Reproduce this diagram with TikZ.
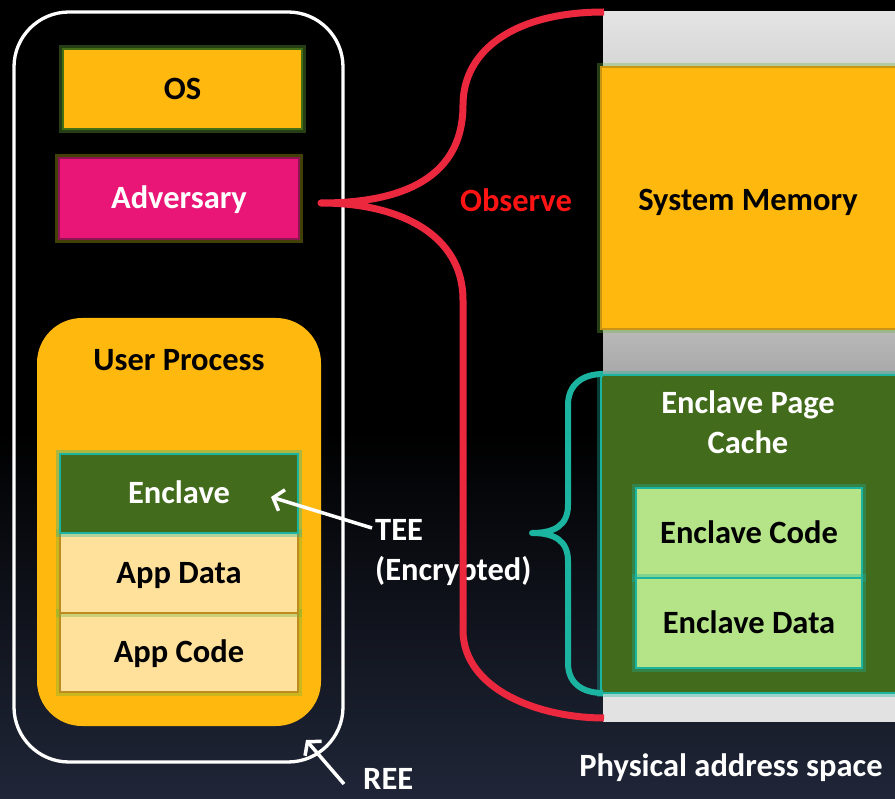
\documentclass[tikz,border=0pt]{standalone}
\usepackage{fontspec}
\setmainfont{Carlito}
\usetikzlibrary{arrows.meta}
\definecolor{orng}{RGB}{255,184,14}
\definecolor{mgnt}{RGB}{233,22,120}
\definecolor{dgreen}{RGB}{66,107,28}
\definecolor{lyell}{RGB}{255,225,155}
\definecolor{lgreen}{RGB}{180,228,135}
\definecolor{teal2}{RGB}{26,180,160}
\definecolor{redc}{RGB}{236,40,62}
\definecolor{obsred}{RGB}{255,20,20}
\definecolor{navy}{RGB}{32,38,56}
\definecolor{glowg}{RGB}{110,180,60}
\definecolor{glowy}{RGB}{150,140,20}
\definecolor{osedge}{RGB}{70,110,20}
\definecolor{advedge}{RGB}{140,20,80}
\definecolor{appedge}{RGB}{190,140,30}
\definecolor{smedge}{RGB}{200,150,20}
\definecolor{greyA}{RGB}{228,228,228}
\definecolor{greyB}{RGB}{214,214,214}
\definecolor{greyC}{RGB}{185,185,185}
\definecolor{greyD}{RGB}{168,168,168}
\definecolor{greyE}{RGB}{226,226,226}
\tikzset{
  txt/.style={font=\fontsize{32.5}{40}\selectfont\bfseries, inner sep=0pt},
  one/.style={text height=23pt, text depth=2.5pt},
  gglow/.style={preaction={draw=glowg, line width=8pt, opacity=0.35}},
  tglow/.style={preaction={draw=teal2, line width=8pt, opacity=0.35}},
  yglow/.style={preaction={draw=glowy, line width=8pt, opacity=0.45}},
  arr/.style={draw=white, line width=3.5pt, -{Straight Barb[length=9pt,width=22pt,line width=3.5pt]}},
  brace/.style={line width=7pt},
}
\begin{document}
\begin{tikzpicture}[x=1pt,y=-1pt]
\useasboundingbox (0,0) rectangle (895,799);
% background
\fill[black] (0,0) rectangle (895,799);
\shade[top color=black, bottom color=navy] (0,430) rectangle (895,799);

% REE box
\draw[white, line width=3.3pt, rounded corners=55pt] (14,12) rectangle (343,762);
\node[txt, one, text=white, anchor=west] (ree) at (363,779) {REE};
\coordinate (reefrom) at (344,784);
\coordinate (reetip) at (306,740);
\draw[arr] (reefrom) -- (reetip);

% OS and Adversary
\node[txt, one, fill=orng, draw=osedge, line width=1.5pt, gglow,
      minimum width=239pt, minimum height=80pt] (os) at (182.5,89) {OS};
\node[txt, one, fill=mgnt, draw=advedge, line width=1.5pt, yglow,
      text=white, minimum width=240pt, minimum height=81pt] (adv) at (179,198.5) {Adversary};

% User process
\node[fill=orng, rounded corners=45pt, minimum width=284pt, minimum height=408pt, inner sep=0pt]
      (up) at (179,522) {};
\node[txt, one] (uplabel) at (179,360) {User Process};
\node[txt, one, fill=lyell, draw=appedge, line width=1.5pt, gglow,
      minimum width=238pt, minimum height=79pt] (appcode) at (179,652.5) {App Code};
\node[txt, one, fill=lyell, draw=appedge, line width=1.5pt, gglow,
      minimum width=238pt, minimum height=80pt] (appdata) at (179,573) {App Data};
\node[txt, one, fill=dgreen, draw=teal2, line width=1.5pt, tglow, text=white,
      minimum width=238pt, minimum height=79pt] (encl) at (179,493.5) {Enclave};

% TEE label and arrow
\node[txt, text=white, anchor=west, align=left] (tee) at (375,553) {TEE\\(Encrypted)};
\coordinate (teefrom) at (372,528);
\coordinate (teetip) at (271,497);
\draw[arr] (teefrom) -- (teetip);

% right memory column
\shade[top color=greyA, bottom color=greyB] (603,12) rectangle (895,68);
\shade[top color=greyC, bottom color=greyD] (603,329) rectangle (895,375);
\fill[greyE] (603,693) rectangle (895,722);
\node[fill=orng, draw=smedge, line width=1.5pt, gglow,
      minimum width=300pt, minimum height=262pt, inner sep=0pt] (sysmem) at (751,198) {};
\node[txt, one] (sysmemlabel) at (748,200) {System Memory};
\node[fill=dgreen, draw=teal2, line width=1.5pt, tglow, minimum width=300pt,
      minimum height=318pt, inner sep=0pt] (epc) at (751,534) {};
\node[txt, text=white, align=center] (epclabel) at (748,422.5) {Enclave Page\\Cache};
\node[txt, one, fill=lgreen, draw=teal2, line width=1.5pt, tglow,
      minimum width=226pt, minimum height=90pt] (ecode) at (749,533) {Enclave Code};
\node[txt, one, fill=lgreen, draw=teal2, line width=1.5pt, tglow,
      minimum width=226pt, minimum height=90pt] (edata) at (749,623) {Enclave Data};
\node[txt, one, text=white] (phys) at (731,766.5) {Physical address space};

% red brace
\coordinate (rtop) at (604,12);
\coordinate (rtip) at (321,203);
\coordinate (rbot) at (604,718);
\draw[redc, brace] (rtop) .. controls (515,12) and (463,50) .. (463,105)
   .. controls (463,185) and (390,203) .. (rtip)
   .. controls (400,203) and (463,235) .. (463,300)
   -- (463,630) .. controls (463,690) and (540,718) .. (rbot);
\fill[redc] (rtip) circle (3.5pt);
\node[txt, one, text=obsred] (obs) at (516,201.5) {Observe};

% teal brace
\coordinate (ttop) at (603,374);
\coordinate (ttip) at (532,533);
\coordinate (tbot) at (603,693);
\draw[teal2, line width=6pt] (ttop) .. controls (582,374) and (568,385) .. (568,405)
   -- (568,505) .. controls (568,525) and (555,533) .. (ttip)
   .. controls (555,533) and (568,541) .. (568,561)
   -- (568,663) .. controls (568,683) and (582,693) .. (tbot);
\fill[teal2] (ttip) circle (3pt);
\end{tikzpicture}
\end{document}
